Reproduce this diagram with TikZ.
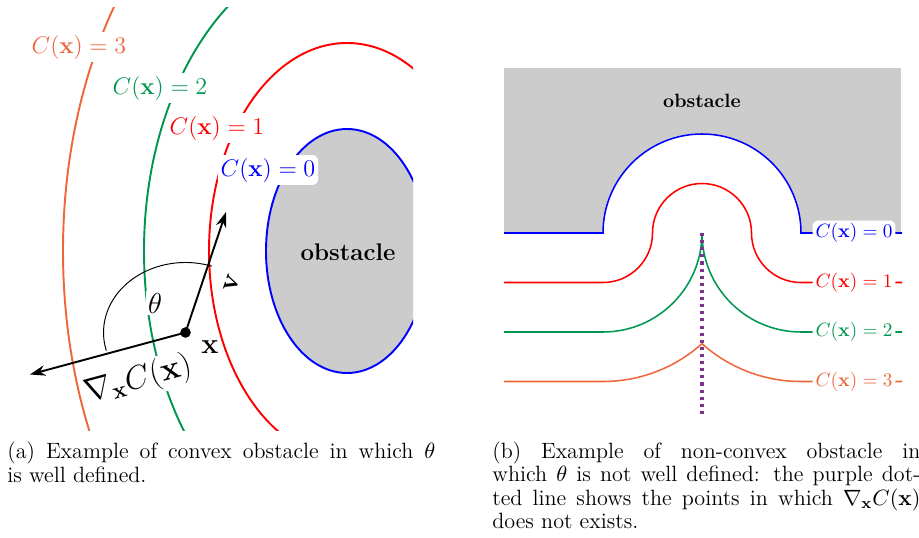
\RequirePackage{fix-cm}
\documentclass[tikz,border=0pt]{standalone}
\usetikzlibrary{arrows.meta}
\definecolor{cblue}{RGB}{0,0,255}
\definecolor{cred}{RGB}{255,0,0}
\definecolor{cgreen}{RGB}{0,150,80}
\definecolor{corange}{RGB}{238,102,58}
\definecolor{cpurple}{RGB}{125,50,140}
\definecolor{obsgray}{gray}{0.8}
\begin{document}
\begin{tikzpicture}[x=0.52pt,y=-0.52pt,
  lvl/.style={fill=white, rounded corners=3pt, inner sep=1.5pt},
  biglbl/.style={fill=white, inner sep=1pt},
  contourL/.style={line width=1pt},
  contourR/.style={line width=0.8pt},
  vec/.style={line width=1pt, -{Stealth[length=8pt,width=5.5pt]}},
  capt/.style={anchor=base west, inner sep=0pt, font=\fontsize{11.5}{12.2}\selectfont},
]
\useasboundingbox (0,0) rectangle (919,537);
% ---------- (a) ----------
\begin{scope}
\clip (0,7) rectangle (413,430);
\fill[obsgray] (347,251) ellipse[x radius=42.12pt, y radius=63.44pt];
\draw[cblue, contourL] (347,251) ellipse[x radius=42.12pt, y radius=63.44pt];
\draw[cred, contourL] (347,251) ellipse[x radius=71.76pt, y radius=108.16pt];
\draw[cgreen, contourL] (347,251) ellipse[x radius=105.56pt, y radius=157.04pt];
\draw[corange, contourL] (347,251) ellipse[x radius=147.68pt, y radius=222.04pt];
\end{scope}
\node[lvl, text=corange, font=\fontsize{12.5}{15}\selectfont] (l3) at (79,47) {$C(\mathbf{x}) = 3$};
\node[lvl, text=cgreen, font=\fontsize{12.5}{15}\selectfont] (l2) at (160,88) {$C(\mathbf{x}) = 2$};
\node[lvl, text=cred, font=\fontsize{12.5}{15}\selectfont] (l1) at (217,128) {$C(\mathbf{x}) = 1$};
\node[lvl, text=cblue, font=\fontsize{12.5}{15}\selectfont] (l0) at (268,170) {$C(\mathbf{x}) = 0$};
\node[font=\bfseries\fontsize{12.5}{15}\selectfont] (obsA) at (348,252) {obstacle};
\node[circle, fill=black, inner sep=0pt, minimum size=5.5pt] (xp) at (185.5,332.5) {};
\coordinate (vtip) at (226,212);
\coordinate (gtip) at (30,374.5);
\draw[line width=0.5pt] (xp.center) ++(71.3:42.64pt and 36.4pt) arc[start angle=71.3, end angle=195, x radius=42.64pt, y radius=36.4pt];
\node[biglbl, font=\fontsize{15}{18}\selectfont] (th) at (155,303) {$\theta$};
\node[biglbl, font=\fontsize{15}{18}\selectfont] (xl) at (210,347) {$\mathbf{x}$};
\node[font=\fontsize{15}{18}\selectfont, rotate=71.3, inner sep=0.5pt] (vl) at (231.5,283) {$\mathbf{v}$};
\node[biglbl, font=\fontsize{17}{20}\selectfont, rotate=15] (gl) at (138,380) {$\nabla_{\mathbf{x}} C(\mathbf{x})$};
\draw[vec] (xp.center) -- (vtip);
\draw[vec] (xp.center) -- (gtip);
% ---------- (b) ----------
\fill[obsgray] (504,68) rectangle (901,233);
\fill[white] (603,233) arc[start angle=180, end angle=0, radius=51.48pt] -- cycle;
\node[font=\bfseries] (obsB) at (702,101) {obstacle};
\draw[cblue, contourR] (504,233) -- (603,233) arc[start angle=180, end angle=0, radius=51.48pt] -- (902,233);
\draw[cred, contourR] (504,282.5) -- (603,282.5) arc[start angle=270, end angle=360, radius=25.74pt] arc[start angle=180, end angle=0, radius=25.74pt] arc[start angle=180, end angle=270, radius=25.74pt] -- (902,282.5);
\draw[cgreen, contourR] (504,332) -- (603,332) arc[start angle=270, end angle=360, radius=51.48pt] arc[start angle=180, end angle=270, radius=51.48pt] -- (902,332);
\draw[corange, contourR] (504,381.5) -- (603,381.5) arc[start angle=270, end angle=311.81, radius=77.22pt] arc[start angle=228.19, end angle=270, radius=77.22pt] -- (902,381.5);
\draw[cpurple, line width=1.6pt, dash pattern=on 1.6pt off 2.1pt] (702,233) -- (702,417);
\node[lvl, text=cblue] (r0) at (854,233) {$C(\mathbf{x}) = 0$};
\node[lvl, text=cred] (r1) at (854,282.5) {$C(\mathbf{x}) = 1$};
\node[lvl, text=cgreen] (r2) at (854,332) {$C(\mathbf{x}) = 2$};
\node[lvl, text=corange] (r3) at (854,381.5) {$C(\mathbf{x}) = 3$};
% ---------- captions ----------
\node[capt] (capA1) at (7,458) {\hbox to 222.6pt{(a) Example of convex obstacle in which $\theta$}};
\node[capt] (capA2) at (7,482) {is well defined.};
\node[capt] (capB1) at (492,458) {\hbox to 222.6pt{(b) Example of non-convex obstacle in}};
\node[capt] (capB2) at (492,481.7) {\hbox to 222.6pt{which $\theta$ is not well defined: the purple dot-}};
\node[capt] (capB3) at (492,505) {\hbox to 222.6pt{ted line shows the points in which $\nabla_{\mathbf{x}} C(\mathbf{x})$}};
\node[capt] (capB4) at (492,528.3) {does not exists.};
\end{tikzpicture}
\end{document}
